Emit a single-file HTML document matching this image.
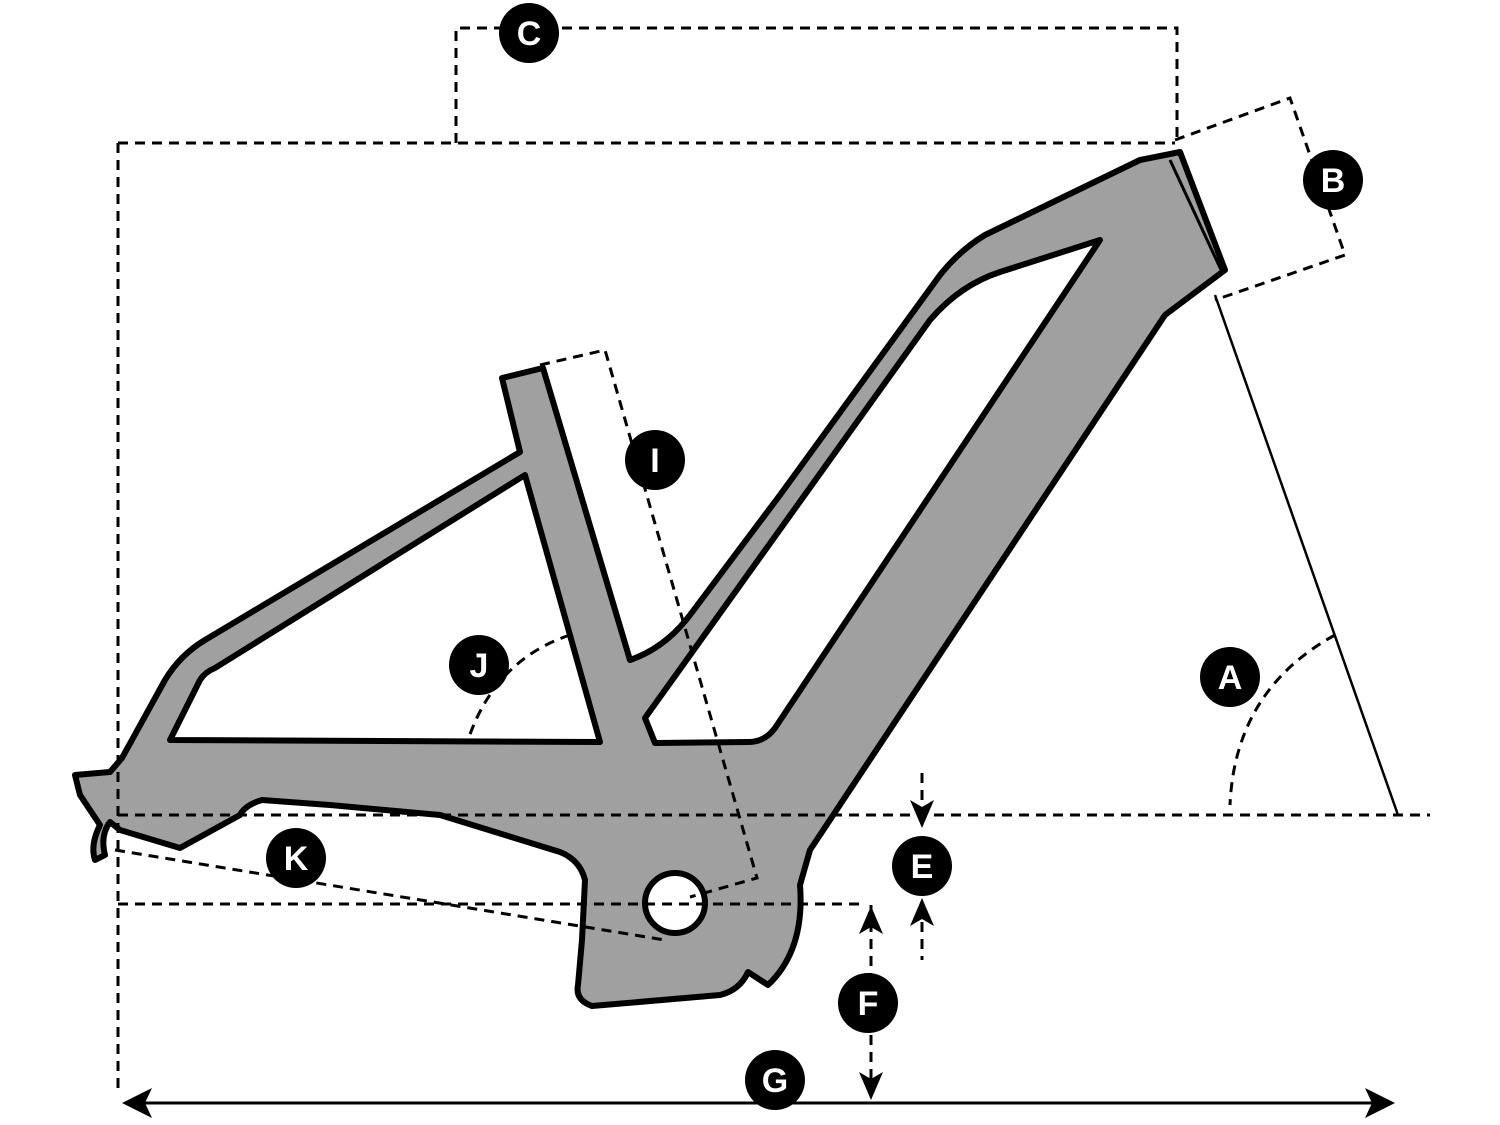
<!DOCTYPE html>
<html><head><meta charset="utf-8"><style>
html,body{margin:0;padding:0;background:#fff;}
svg{display:block}
text{font-family:"Liberation Sans",sans-serif;font-weight:bold;fill:#fff;font-size:34px;text-anchor:middle;dominant-baseline:central}
</style></head><body>
<svg width="1500" height="1125" viewBox="0 0 1500 1125" xmlns="http://www.w3.org/2000/svg">
<path fill="#a0a0a0" stroke="#000" stroke-width="6" stroke-linejoin="round" fill-rule="evenodd" d="
M75,775 L110,772 L122,758 L165,680 Q180,655 205,640 L520,452 L502,378 L543,368 L630,660 Q665,648 690,615 L780,495 L940,275 Q960,250 985,235 L1140,160 L1180,152 L1225,270 L1165,315 L810,850 L800,885 Q805,950 768,985 L748,972 Q740,990 720,995 L592,1006 Q575,1000 578,985 L582,940 L585,880 Q580,860 560,852 L440,815 L330,805 L262,800 Q245,805 240,815 L180,848 L120,830 L110,822 Q100,835 105,855 L95,860 Q90,845 100,825 L80,795 Z
M170,740 L200,680 Q205,672 215,668 L525,475 L600,742 Z
M645,718 L930,320 Q960,285 1000,272 L1100,240 L775,728 Q765,742 748,742 L655,743 Z"/>
<path d="M1170,160 L1222,272" stroke="#000" stroke-width="3"/>
<circle cx="675" cy="903" r="30" fill="#fff" stroke="#000" stroke-width="6"/>
<g fill="none" stroke="#000" stroke-width="3" stroke-dasharray="10,7">
<path d="M118,143 H1175"/>
<path d="M118,143 V1095"/>
<path d="M456,143 V28 H1177 V143"/>
<path d="M1175,140 L1290,98 L1345,255 L1215,300"/>
<path d="M118,815 H1430"/>
<path d="M118,904 H860"/>
<path d="M540,365 L605,350 L757,878 L690,897"/>
<path d="M115,850 L665,940"/>
<path d="M570,635 Q495,660 468,740"/>
<path d="M1335,635 Q1235,690 1230,805"/>
<path d="M922,773 V820"/>
<path d="M922,905 V960"/>
<path d="M871,905 V975"/>
<path d="M871,1035 V1095"/>
</g>
<path d="M1215,295 L1398,815" stroke="#000" stroke-width="2.5"/>
<path d="M130,1103 H1385" stroke="#000" stroke-width="3"/>
<path d="M122,1103 L152,1088 L145,1103 L152,1118 Z M1395,1103 L1365,1088 L1372,1103 L1365,1118 Z" fill="#000"/>
<path d="M922,828 L910,800 L922,807 L934,800 Z M922,898 L910,926 L922,919 L934,926 Z M871,906 L859,934 L871,927 L883,934 Z M871,1100 L859,1072 L871,1079 L883,1072 Z" fill="#000"/>
<g fill="#000">
<circle cx="529" cy="33" r="30"/><circle cx="1333" cy="180" r="30"/>
<circle cx="655" cy="460" r="30"/><circle cx="479" cy="665" r="30"/>
<circle cx="1230" cy="677" r="30"/><circle cx="296" cy="858" r="30"/>
<circle cx="922" cy="866" r="30"/><circle cx="868" cy="1003" r="30"/>
<circle cx="775" cy="1080" r="30"/>
</g>
<text x="529" y="34">C</text><text x="1333" y="181">B</text>
<text x="655" y="461">I</text><text x="479" y="666">J</text>
<text x="1230" y="678">A</text><text x="296" y="859">K</text>
<text x="922" y="867">E</text><text x="868" y="1004">F</text>
<text x="775" y="1081">G</text>
</svg>
</body></html>
